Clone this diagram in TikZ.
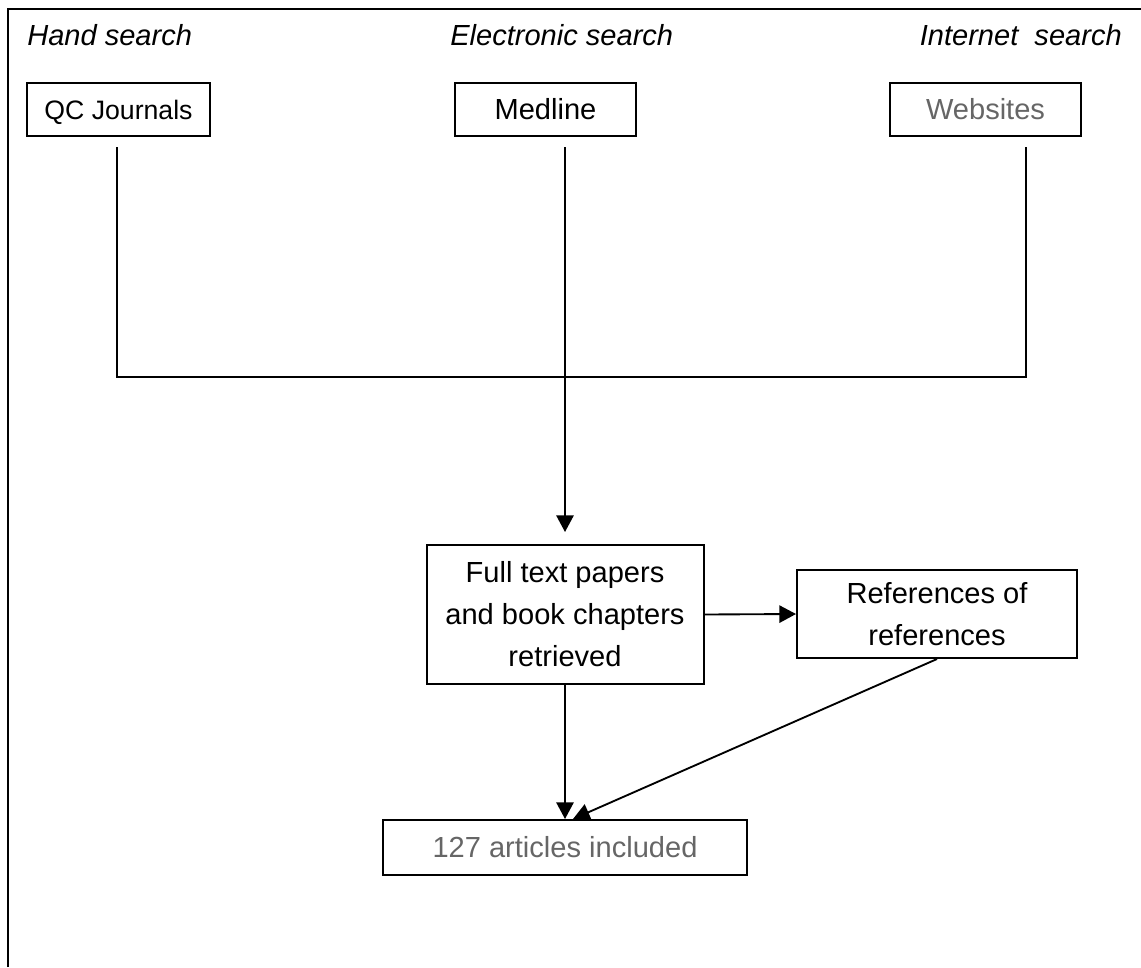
\documentclass[tikz,border=0pt]{standalone}
\usepackage{fontspec}
\setmainfont{Liberation Sans}
\usepackage{tikz}
\usepackage{xcolor}
\usetikzlibrary{arrows.meta}

\definecolor{greytext}{HTML}{666666}

\tikzset{
  box/.style={draw, line width=1.5pt, inner sep=0pt, align=center,
    font=\fontsize{21.8}{31.5}\selectfont},
  heading/.style={font=\fontsize{21.8}{26}\selectfont\itshape, inner sep=0pt},
  link/.style={line width=1.4pt},
  arrow/.style={line width=1.4pt, -{Triangle[length=12.5pt,width=13pt]}},
  frame/.style={line width=2pt}
}

\begin{document}
\begin{tikzpicture}[x=0.75pt, y=-0.75pt]
  \useasboundingbox (0,0) rectangle (1141,967);
  % === Ramme ===
  \draw[frame] (8,967) -- (8,9) -- (1141,9);
  % === Overskrifter ===
  \node[heading, anchor=base west] (hhand) at (27,45) {Hand search};
  \node[heading, anchor=base west] (helec) at (450,45) {Electronic search};
  \node[heading, anchor=base east] (hnet) at (1122,45) {Internet\ \ search};
  % === Kilder ===
  \node[box, minimum width=137.25pt, minimum height=39.75pt, text height=15pt, text depth=0pt,
    font=\fontsize{20}{24}\selectfont] (qc) at (118.5,109.5) {QC Journals};
  \node[box, minimum width=135.75pt, minimum height=39.75pt] (medline) at (545.5,109.5) {Medline};
  \node[box, minimum width=143.25pt, minimum height=39.75pt, text=greytext] (web) at (985.5,109.5) {Websites};
  % === Resultater ===
  \node[box, minimum width=207.75pt, minimum height=104.25pt] (fulltext) at (565,614.5)
    {Full text papers\\and book chapters\\retrieved};
  \node[box, minimum width=210pt, minimum height=66pt] (refs) at (937,614)
    {References of\\references};
  \node[box, minimum width=273pt, minimum height=41.25pt, text=greytext] (included) at (565,847.5)
    {127 articles included};
  % === Forbindelser ===
  \coordinate (qcfoot) at (117,147);
  \coordinate (medfoot) at (565,147);
  \coordinate (webfoot) at (1026,147);
  \coordinate (joinL) at (117,377);
  \coordinate (joinR) at (1026,377);
  \draw[link] (qcfoot) -- (joinL) -- (joinR) -- (webfoot);
  \draw[arrow, shorten >=9pt] (medfoot) -- (medfoot |- fulltext.north);
  \draw[arrow] (fulltext.east) -- (refs.west);
  \draw[arrow] (fulltext.south) -- (fulltext.south |- included.north);
  \draw[arrow] (refs.south) -- ([xshift=6pt]included.north);
\end{tikzpicture}
\end{document}
